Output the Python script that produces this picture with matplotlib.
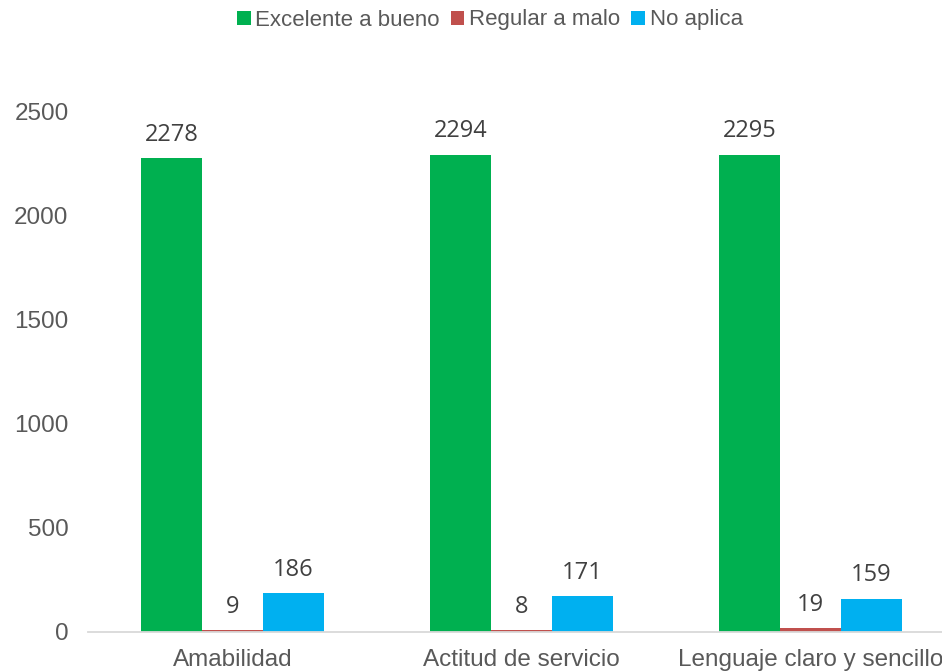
import numpy as np
import matplotlib.pyplot as plt

categorias = ['Amabilidad', 'Actitud de servicio', 'Lenguaje claro y sencillo']
series = ['Excelente a bueno', 'Regular a malo', 'No aplica']
excelente = [2278, 2294, 2295]
regular = [9, 8, 19]
no_aplica = [186, 171, 159]
colores = ['#00B050', '#C0504D', '#00B0F0']

plt.rcParams['font.family'] = ['Liberation Sans', 'DejaVu Sans']

fig = plt.figure(figsize=(9.42, 6.72), dpi=100)
ax = fig.add_axes([88 / 942, 40 / 672, 867 / 942, 520 / 672])

x = np.arange(len(categorias))
w = 0.21
for i, (vals, nombre, c) in enumerate(zip([excelente, regular, no_aplica], series, colores)):
    pos = x + (i - 1) * w
    ax.bar(pos, vals, w, color=c, label=nombre, zorder=2)
    for px, v in zip(pos, vals):
        ax.text(px, v + 55, str(v), ha='center', va='bottom', fontsize=17,
                color='#404040', family=['Open Sans', 'DejaVu Sans'])

ax.set_xlim(-0.5, 2.5)
ax.set_ylim(0, 2500)
ax.set_yticks([0, 500, 1000, 1500, 2000, 2500])
ax.set_xticks(x)
ax.set_xticklabels(categorias)
ax.tick_params(axis='both', length=0, labelsize=17.5, colors='#595959')
ax.tick_params(axis='y', pad=14)
ax.tick_params(axis='x', pad=12)
for s in ['top', 'right', 'left']:
    ax.spines[s].set_visible(False)
ax.spines['bottom'].set_color('#D9D9D9')
ax.spines['bottom'].set_linewidth(1.3)

fig.legend(loc='center', bbox_to_anchor=(490 / 942, 1 - 20 / 672), ncol=3, frameon=False,
           fontsize=16, labelcolor='#595959', handlelength=0.6, handleheight=0.6,
           handletextpad=0.22, columnspacing=0.5)

fig.savefig('out.png', dpi=100)
